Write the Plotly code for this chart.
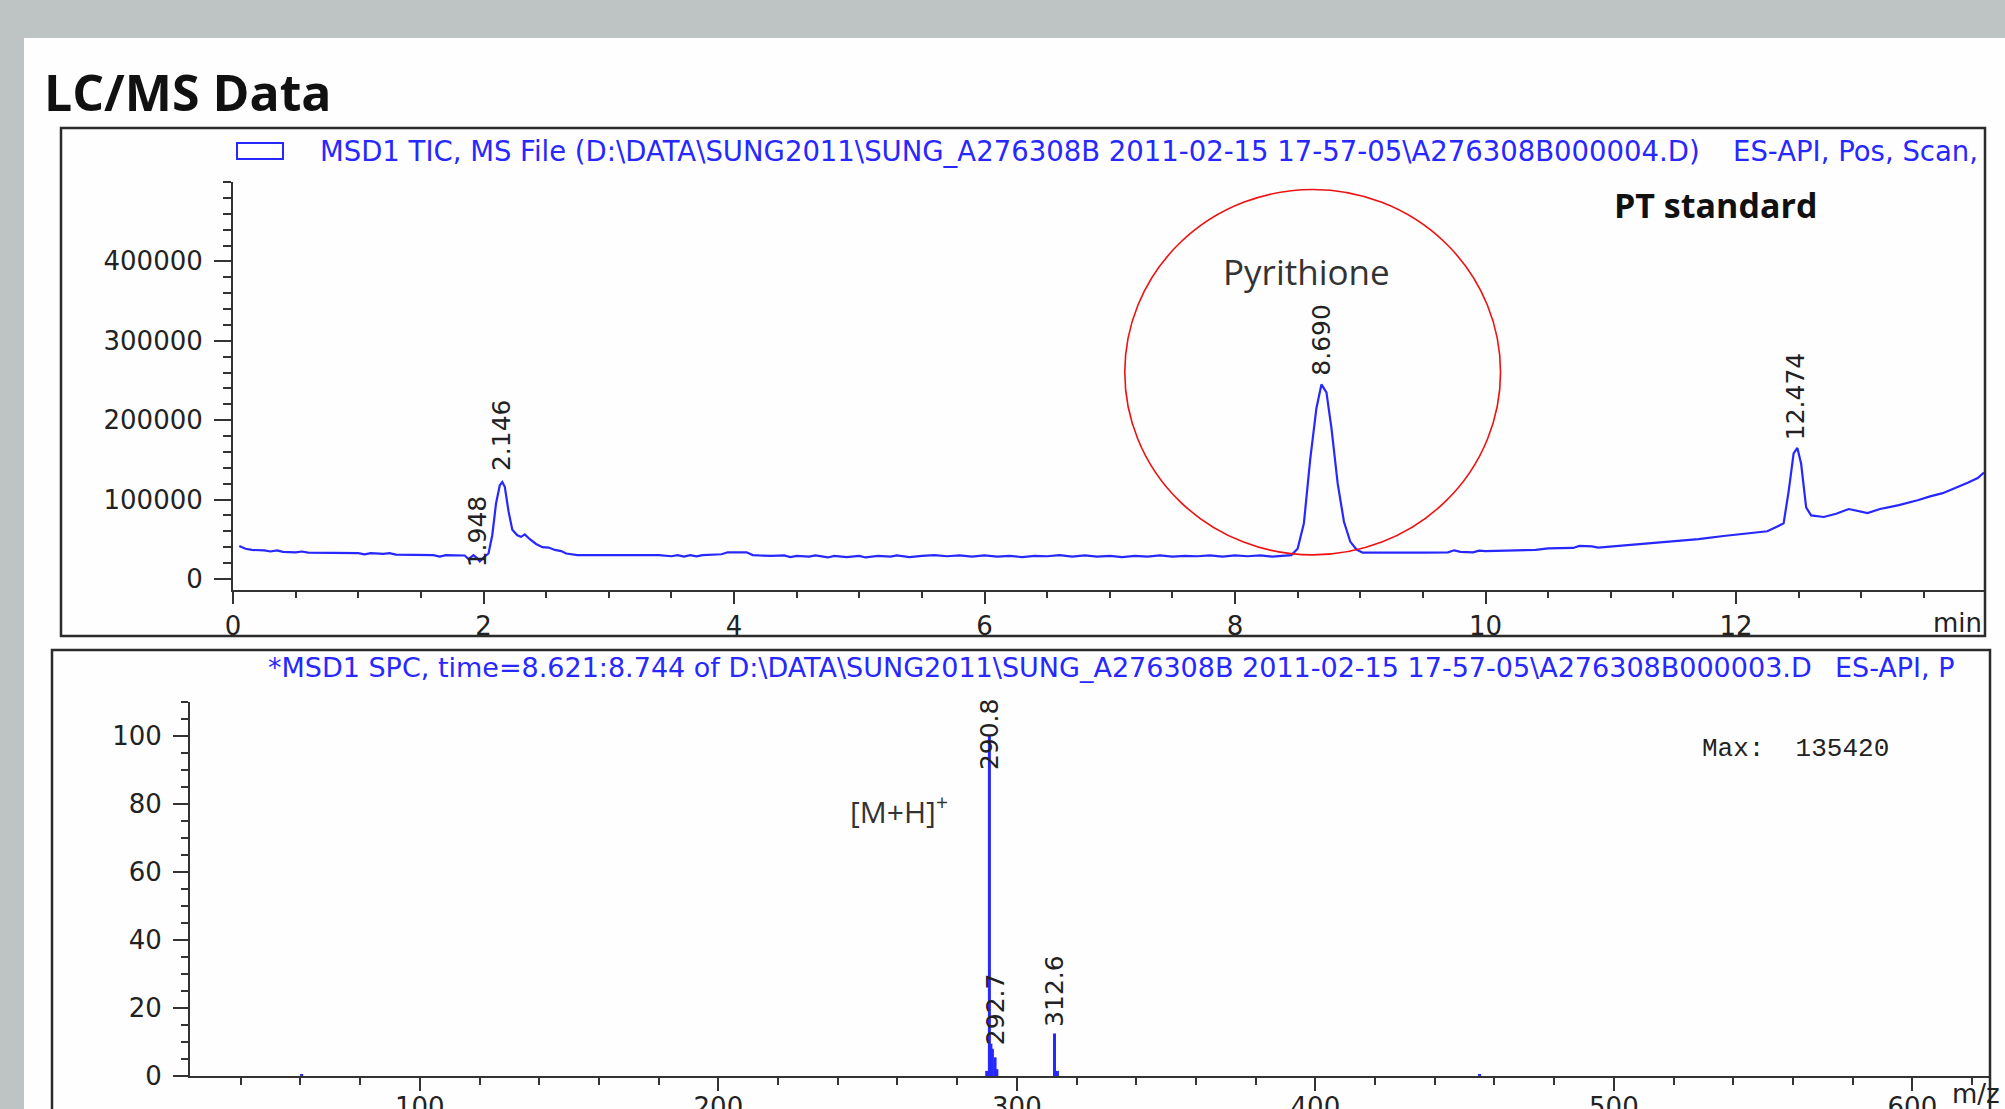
import plotly.graph_objects as go

W, H = 2005, 1109
def px(x): return x / W
def py(y): return 1 - y / H

BLUE = "#2727ff"
AX = "#333333"
TXT = "#222222"

# ---------------- TIC chromatogram (top) ----------------
tic_time = [0.05, 0.10, 0.15, 0.25, 0.30, 0.35, 0.40, 0.50, 0.55, 0.60, 0.80, 1.00, 1.05, 1.10,
            1.20, 1.25, 1.30, 1.60, 1.65, 1.70, 1.85, 1.88, 1.92, 1.95, 1.97, 2.00, 2.04, 2.07,
            2.10, 2.13, 2.15, 2.17, 2.20, 2.23, 2.27, 2.30, 2.33, 2.37, 2.42, 2.47, 2.52, 2.57,
            2.62, 2.66, 2.75, 3.00, 3.40, 3.50, 3.55, 3.60, 3.65, 3.70, 3.75, 3.90, 3.95, 4.10,
            4.15, 4.20, 4.30, 4.40, 4.45, 4.50, 4.60, 4.65, 4.75, 4.80, 4.90, 5.00, 5.05, 5.15,
            5.25, 5.30, 5.40, 5.50, 5.60, 5.70, 5.80, 5.90, 6.00, 6.10, 6.20, 6.30, 6.40, 6.50,
            6.60, 6.70, 6.80, 6.90, 7.00, 7.10, 7.20, 7.30, 7.40, 7.50, 7.60, 7.70, 7.80, 7.90,
            8.00, 8.10, 8.20, 8.30, 8.40, 8.45, 8.50, 8.55, 8.60, 8.65, 8.69, 8.73, 8.77, 8.82,
            8.87, 8.92, 8.97, 9.02, 9.50, 9.70, 9.75, 9.80, 9.90, 9.95, 10.00, 10.40, 10.50,
            10.70, 10.75, 10.85, 10.90, 11.10, 11.30, 11.50, 11.70, 11.90, 12.10, 12.25, 12.33,
            12.38, 12.42, 12.46, 12.49, 12.52, 12.56, 12.60, 12.70, 12.80, 12.90, 12.97, 13.05,
            13.15, 13.30, 13.45, 13.55, 13.65, 13.75, 13.85, 13.93, 13.98]
tic_signal = [41500, 38000, 36500, 36000, 34500, 36000, 34000, 33500, 34500, 33000, 32800, 32500,
              31000, 32500, 31500, 32500, 30500, 30000, 28000, 30000, 29500, 25000, 30000, 26000,
              22000, 27000, 32000, 55000, 95000, 118000, 122000, 116000, 85000, 62000, 55000,
              53000, 56000, 50000, 44000, 40000, 39500, 36500, 35000, 32000, 30000, 30000, 30000,
              28500, 30000, 28000, 30000, 28500, 30000, 31000, 33500, 33500, 30000, 29500, 29000,
              29500, 27500, 29000, 28000, 29500, 27000, 29000, 27500, 29000, 27000, 29000, 28000,
              29500, 27500, 29000, 30000, 28500, 29500, 28000, 29500, 28000, 29000, 27500, 29000,
              28500, 30000, 28000, 29500, 28000, 29000, 27500, 29000, 28000, 29500, 28000, 29000,
              28500, 29500, 28000, 29500, 28500, 29500, 28000, 29000, 30000, 38000, 70000, 150000,
              215000, 245000, 235000, 190000, 120000, 72000, 47000, 37000, 33000, 33000, 33500,
              36000, 34000, 33500, 35500, 35000, 36500, 38500, 39000, 41500, 41000, 39500, 42000,
              45000, 47000, 50000, 54000, 57000, 60000, 66000, 70000, 110000, 158000, 165000,
              145000, 90000, 80000, 78000, 82000, 88000, 86000, 83000, 88000, 93000, 99000, 104000,
              108000, 114000, 121000, 127000, 134000]

tic_peak_rt = [1.948, 2.146, 8.690, 12.474]
tic_peak_text = ["1.948", "2.146", "8.690", "12.474"]
tic_peak_label_base = [12000, 133000, 254000, 172000]

tic_xticks = [0, 2, 4, 6, 8, 10, 12]
tic_yticks = [0, 100000, 200000, 300000, 400000]

# ---------------- Mass spectrum (bottom) ----------------
ms_mz = [60.4, 289.9, 290.8, 291.3, 291.8, 292.7, 293.3, 312.6, 313.6, 455.0]
ms_abund = [0.6, 1.5, 100.0, 9.5, 8.0, 5.5, 2.0, 12.5, 1.5, 0.6]
ms_peak_mz = [290.8, 292.7, 312.6]
ms_peak_text = ["290.8", "292.7", "312.6"]
ms_peak_label_base = [89.5, 8.5, 14.0]

ms_xticks = [100, 200, 300, 400, 500, 600]
ms_yticks = [0, 20, 40, 60, 80, 100]

fig = go.Figure()
fig.add_trace(go.Scatter(x=tic_time, y=tic_signal, mode="lines",
                         line=dict(color=BLUE, width=2.2), xaxis="x", yaxis="y",
                         showlegend=False, hoverinfo="skip"))

sx, sy = [], []
for m, a in zip(ms_mz, ms_abund):
    sx += [m, m, None]
    sy += [0, a, None]
fig.add_trace(go.Scatter(x=sx, y=sy, mode="lines", line=dict(color=BLUE, width=3),
                         xaxis="x2", yaxis="y2", showlegend=False, hoverinfo="skip"))

tickfont = dict(family="DejaVu Sans", size=26, color=TXT)
common = dict(showline=True, linecolor=AX, linewidth=2, ticks="outside", tickcolor=AX,
              tickwidth=2, showgrid=False, zeroline=False, tickfont=tickfont)

fig.update_layout(
    width=W, height=H, autosize=False, template="none",
    margin=dict(l=0, r=0, t=0, b=0),
    paper_bgcolor="#bec3c4", plot_bgcolor="rgba(0,0,0,0)",
    xaxis=dict(domain=[px(233), px(1984)], anchor="y", range=[0, 13.98],
               tickmode="array", tickvals=tic_xticks, ticktext=[str(v) for v in tic_xticks],
               ticklen=12,
               minor=dict(ticks="outside", ticklen=6, tickwidth=1.5, tickcolor=AX,
                          tick0=0, dtick=0.5, showgrid=False),
               **common),
    yaxis=dict(domain=[py(590), py(182)], anchor="x", range=[-14000, 500000],
               tickmode="array", tickvals=tic_yticks, ticktext=[str(v) for v in tic_yticks],
               ticklen=17, ticklabelstandoff=6,
               minor=dict(ticks="outside", ticklen=8, tickwidth=1.5, tickcolor=AX,
                          tick0=0, dtick=20000, showgrid=False),
               **common),
    xaxis2=dict(domain=[px(190), px(1990)], anchor="y2", range=[23, 626],
                tickmode="array", tickvals=ms_xticks, ticktext=[str(v) for v in ms_xticks],
                ticklen=13, ticklabelstandoff=-6,
                minor=dict(ticks="outside", ticklen=7, tickwidth=1.5, tickcolor=AX,
                           tick0=0, dtick=20, showgrid=False),
                **common),
    yaxis2=dict(domain=[py(1076), py(702)], anchor="x2", range=[0, 110],
                tickmode="array", tickvals=ms_yticks, ticktext=[str(v) for v in ms_yticks],
                ticklen=15, ticklabelstandoff=6,
                minor=dict(ticks="outside", ticklen=7, tickwidth=1.5, tickcolor=AX,
                           tick0=0, dtick=5, showgrid=False),
                **common),
)

shapes = [
    dict(type="rect", xref="paper", yref="paper", x0=px(24), x1=1.0, y0=0, y1=py(38),
         fillcolor="#fefefe", line=dict(width=0), layer="below"),
    dict(type="rect", xref="paper", yref="paper", x0=px(61), x1=px(1985), y0=py(636), y1=py(128),
         fillcolor="rgba(0,0,0,0)", line=dict(color="#2b2b2b", width=2.5), layer="above"),
    dict(type="rect", xref="paper", yref="paper", x0=px(52), x1=px(1990), y0=py(1125), y1=py(650),
         fillcolor="rgba(0,0,0,0)", line=dict(color="#2b2b2b", width=2.5), layer="above"),
    dict(type="rect", xref="paper", yref="paper", x0=px(237), x1=px(283), y0=py(159), y1=py(143),
         fillcolor="white", line=dict(color=BLUE, width=2)),
    dict(type="circle", xref="x", yref="y", x0=7.12, x1=10.12, y0=30200, y1=490500,
         line=dict(color="#ee1111", width=1.6)),
]
fig.update_layout(shapes=shapes)

ann = []
def A(text, x, y, xa="left", ya="middle", size=24, family="DejaVu Sans", color=TXT, **kw):
    ann.append(dict(text=text, x=px(x), y=py(y), xref="paper", yref="paper", xanchor=xa,
                    yanchor=ya, showarrow=False, font=dict(family=family, size=size, color=color),
                    **kw))

A("<b>LC/MS Data</b>", 42, 92, size=50, family="Open Sans", color="#111111")
A(r"MSD1 TIC, MS File (D:\DATA\SUNG2011\SUNG_A276308B 2011-02-15 17-57-05\A276308B000004.D)",
  318, 151, size=27.5, color=BLUE)
A("ES-API, Pos, Scan,", 1731, 151, size=27.5, color=BLUE)
A("<b>PT standard</b>", 1612, 205, size=34, family="Open Sans", color="#111111")
A("Pyrithione", 1221, 271, size=35, family="Open Sans", color="#333333")
A("min", 1984, 623, xa="right", size=26)
A(r"*MSD1 SPC, time=8.621:8.744 of D:\DATA\SUNG2011\SUNG_A276308B 2011-02-15 17-57-05\A276308B000003.D",
  266, 667, size=27, color=BLUE)
A("ES-API, P", 1833, 667, size=27, color=BLUE)
A("Max:  135420", 1700, 749, size=26, family="Liberation Mono", color=TXT)
A("[M+H]<sup>+</sup>", 848, 810, size=30, family="Open Sans", color="#333333")
A("m/z", 1950, 1094, size=26)

for rt, t, b in zip(tic_peak_rt, tic_peak_text, tic_peak_label_base):
    ann.append(dict(text=t, x=rt, y=b, xref="x", yref="y", xanchor="center", yanchor="bottom",
                    textangle=-90, showarrow=False,
                    font=dict(family="DejaVu Sans", size=25, color=TXT)))
for m, t, b in zip(ms_peak_mz, ms_peak_text, ms_peak_label_base):
    ann.append(dict(text=t, x=m, y=b, xref="x2", yref="y2", xanchor="center", yanchor="bottom",
                    textangle=-90, showarrow=False,
                    font=dict(family="DejaVu Sans", size=25, color=TXT)))
fig.update_layout(annotations=ann)

fig.write_html("out.html", config={"displayModeBar": False},
               post_script="document.body.style.margin='0px';document.body.style.overflow='hidden';")
